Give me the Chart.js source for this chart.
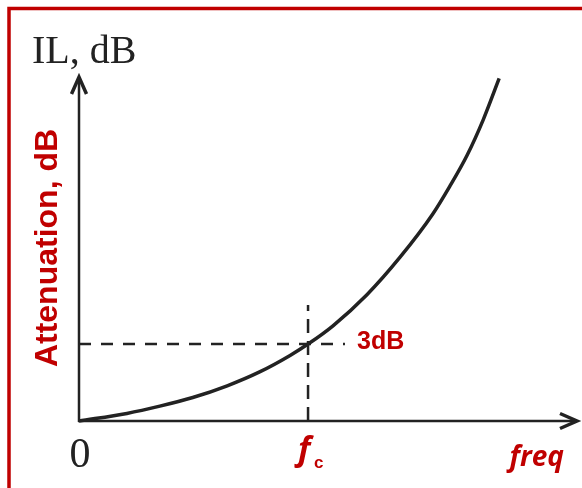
<!DOCTYPE html>
<html>
<head>
<meta charset="utf-8">
<script src="https://cdn.jsdelivr.net/npm/chart.js@4/dist/chart.umd.min.js"></script>
<style>
  body { margin: 0; background: #fff; }
  canvas { display: block; }
</style>
</head>
<body>
<canvas id="ilChart" width="582" height="488"></canvas>
<script>
// curve (freq and IL in arbitrary 0..100 units)
var freq = [0, 9.6, 16.2, 22.8, 29.7, 36.3, 42.3, 45.9, 50.9, 57.7, 64.3, 70.9, 74.3, 77.8, 81.0, 84.2]
var attenuation = [0, 2.2, 4.3, 6.8, 10.2, 14.3, 19.0, 22.3, 27.6, 36.6, 47.4, 60.0, 68.0, 77.1, 87.3, 99.3]
var fc = 45.9
var level3dB = 22.3
var hLineEnd = 53.3   // where the dashed 3dB line stops
var vLineTop = 33.6   // where the dashed fc line stops
var axisMax = 100

var red = '#c00000'
var ink = '#222222'

function pts(xs, ys) {
    var out = []
    for (var i = 0; i < xs.length; i++) out.push({x: xs[i], y: ys[i]})
    return out
}

var sketchPlugin = {
    id: 'sketch',
    beforeDraw: function(chart) {
        var ctx = chart.ctx
        ctx.save()
        // red frame (top and left only)
        ctx.strokeStyle = red
        ctx.lineWidth = 3.5
        ctx.beginPath()
        ctx.moveTo(9, 488)
        ctx.lineTo(9, 8.5)
        ctx.lineTo(582, 8.5)
        ctx.stroke()
        ctx.restore()
    },
    afterDraw: function(chart) {
        var ctx = chart.ctx
        var xs = chart.scales.x, ys = chart.scales.y
        var x0 = xs.getPixelForValue(0), y0 = ys.getPixelForValue(0)
        var xEnd = xs.getPixelForValue(axisMax), yEnd = ys.getPixelForValue(axisMax)
        ctx.save()
        ctx.strokeStyle = ink
        ctx.lineWidth = 2.5
        ctx.lineCap = 'butt'
        ctx.beginPath()
        ctx.moveTo(x0, y0 + 1)
        ctx.lineTo(x0, yEnd + 2)
        ctx.moveTo(x0 - 1, y0)
        ctx.lineTo(xEnd - 2, y0)
        ctx.stroke()
        // arrow heads
        ctx.lineWidth = 3.5
        ctx.lineJoin = 'miter'
        ctx.beginPath()
        ctx.moveTo(x0 - 7.5, yEnd + 18)
        ctx.lineTo(x0, yEnd + 1)
        ctx.lineTo(x0 + 7.5, yEnd + 18)
        ctx.moveTo(xEnd - 18, y0 - 7.5)
        ctx.lineTo(xEnd - 1, y0)
        ctx.lineTo(xEnd - 18, y0 + 7.5)
        ctx.stroke()

        // texts
        ctx.fillStyle = ink
        ctx.textBaseline = 'alphabetic'
        ctx.textAlign = 'left'
        ctx.font = '40px "Liberation Serif", "Times New Roman", serif'
        ctx.fillText('IL, dB', 32, 63)
        ctx.textAlign = 'center'
        ctx.font = '42px "Liberation Serif", "Times New Roman", serif'
        ctx.fillText('0', x0 + 1, 467)

        ctx.fillStyle = red
        ctx.textAlign = 'left'
        ctx.font = 'bold 25px "Liberation Sans", Arial, sans-serif'
        ctx.fillText('3dB', 357, 349)

        var fx = xs.getPixelForValue(fc)
        ctx.font = 'italic bold 33px "Open Sans", sans-serif'
        ctx.fillText('f', fx - 10, 460)
        ctx.font = 'bold 17px "Liberation Sans", Arial, sans-serif'
        ctx.fillText('c', fx + 6, 468)

        ctx.font = 'italic bold 28px "Open Sans", sans-serif'
        ctx.textAlign = 'right'
        ctx.fillText('freq', 564, 466)

        ctx.save()
        ctx.translate(57, 248)
        ctx.rotate(-Math.PI / 2)
        ctx.textAlign = 'center'
        ctx.font = 'bold 32px "Liberation Sans", Arial, sans-serif'
        ctx.fillText('Attenuation, dB', 0, 0)
        ctx.restore()
        ctx.restore()
    }
}

var ctx = document.getElementById('ilChart').getContext('2d')
window.ilChart = new Chart(ctx, {
    type: 'line',
    data: {
        datasets: [{
            label: 'IL',
            data: pts(freq, attenuation),
            borderColor: ink,
            borderWidth: 3.5,
            pointRadius: 0,
            cubicInterpolationMode: 'monotone',
            fill: false,
            clip: false
        }, {
            label: '3dB',
            data: [{x: 0, y: level3dB}, {x: hLineEnd, y: level3dB}],
            borderColor: ink,
            borderWidth: 2.5,
            borderDash: [12, 10],
            pointRadius: 0,
            fill: false,
            clip: false
        }, {
            label: 'fc',
            data: [{x: fc, y: 0}, {x: fc, y: vLineTop}],
            borderColor: ink,
            borderWidth: 2.5,
            borderDash: [14, 8],
            pointRadius: 0,
            fill: false,
            clip: false
        }]
    },
    options: {
        responsive: false,
        animation: false,
        layout: { padding: { left: 79, right: 4, top: 76, bottom: 67 } },
        plugins: { legend: { display: false }, tooltip: { enabled: false } },
        scales: {
            x: { type: 'linear', min: 0, max: axisMax, display: false },
            y: { type: 'linear', min: 0, max: axisMax, display: false }
        }
    },
    plugins: [sketchPlugin]
});
</script>
</body>
</html>
